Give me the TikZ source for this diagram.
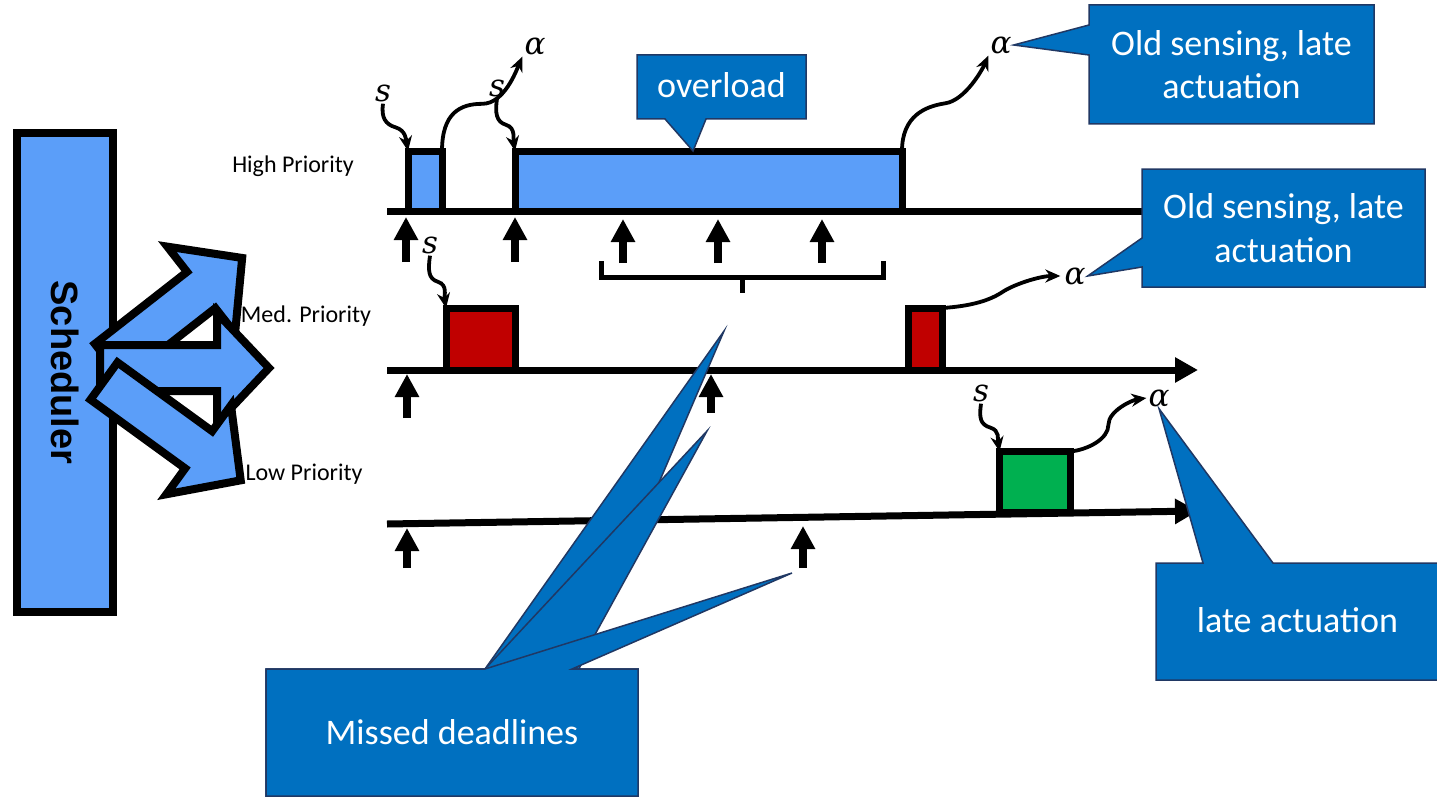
\documentclass[tikz,border=0pt]{standalone}
\usepackage{fontspec}
\setmainfont{Carlito}
\newfontfamily\arialfont{Liberation Sans}
\newfontfamily\sigfont{DejaVu Serif}
\usetikzlibrary{calc,arrows.meta}
\definecolor{taskblue}{RGB}{91,158,249}
\definecolor{taskred}{RGB}{192,0,0}
\definecolor{taskgreen}{RGB}{0,176,80}
\definecolor{callblue}{RGB}{0,112,192}
\definecolor{callrim}{RGB}{32,56,100}
\tikzset{
  task/.style={draw=black,line width=7pt,inner sep=0pt,outer sep=0pt,anchor=south west},
  timeline/.style={line width=7pt,-{Triangle[length=23pt,width=24pt]}},
  deadline/.style={line width=8pt,-{Triangle[length=23pt,width=23pt]}},
  squig/.style={line width=3.8pt,-{Stealth[length=15pt,width=13pt]}},
  sig/.style={font=\sigfont\itshape\fontsize{31}{36}\selectfont,inner sep=2pt},
  prio/.style={font=\fontsize{24}{28}\selectfont,anchor=base},
  callout/.style={fill=callblue,draw=callrim,line width=1.5pt},
  calltext/.style={text=white,font=\fontsize{36}{43.5}\selectfont,align=center},
  fat/.style={fill=taskblue,draw=black,line width=8pt},
}
% block arrow: tail centre, angle, shaft length
\newcommand{\fatarrow}[3]{%
  \begin{scope}[shift={#1},rotate=#2]
    \draw[fat] (0,-23) -- (#3,-23) -- (#3,-55) -- ({#3+52},0) -- (#3,55) -- (#3,23) -- (0,23) -- cycle;
  \end{scope}}

\begin{document}
\begin{tikzpicture}[x=1pt,y=-1pt]
    \useasboundingbox (0,0) rectangle (1437,797);

    % scheduler and its three outputs
    \node[fat,rotate=-90,minimum width=479pt,minimum height=96pt,inner sep=0pt,
          font=\arialfont\bfseries\fontsize{38}{40}\selectfont] (sched) at (65,372.5) {Scheduler};
    \fatarrow{(109,362)}{38}{117}
    \fatarrow{(100,368)}{0}{117}
    \fatarrow{(104,381)}{-36}{117}

    \node[prio] (hilab) at (293,172) {High Priority};
    \node[prio] (medlab) at (306,322) {Med. Priority};
    \node[prio] (lowlab) at (304,480) {Low Priority};

    % time lines
    \draw[timeline] (387,211) -- (1195,211);
    \draw[timeline] (387,370) -- (1198,370);
    \draw[timeline] (387,524) -- (1198,511);

    \node[task,fill=taskblue,minimum width=34pt,minimum height=60pt] (h1) at (408,211) {};
    \node[task,fill=taskblue,minimum width=387pt,minimum height=60pt] (h2) at (515,211) {};
    \node[task,fill=taskred,minimum width=69pt,minimum height=62pt] (m1) at (446,370) {};
    \node[task,fill=taskred,minimum width=34.5pt,minimum height=62pt] (m2) at (908,370) {};
    \node[task,fill=taskgreen,minimum width=71pt,minimum height=60.5pt] (l1) at (999.5,512) {};

    % releases
    \foreach \x/\yt/\yb in {406/217/262,515/217/262,623/219/263,718/219/263,822/219/263,
                           407/374/418,711/374/413,407/528/568,803/526/568}
        \draw[deadline] (\x,\yb) -- (\x,\yt);
    \draw[line width=5pt] (601,261) |- (742,277) -| (883,261);
    \draw[line width=5pt] (742,277) -- (742,293);

    % sensing and actuation
    \node[sig] (s1) at (383,93) {s};
    \node[sig] (s2) at (497,88) {s};
    \node[sig] (a1) at (535,46) {α};
    \node[sig] (a2) at (1001,45) {α};
    \node[sig] (s3) at (430,245) {s};
    \node[sig] (a3) at (1075,276) {α};
    \node[sig] (s4) at (981,393) {s};
    \node[sig] (a4) at (1159,398) {α};

    \draw[squig] (s1.south) .. controls +(-2,14) and +(-10,-3) .. ($(s1.south)!.5!(h1.north west)$)
        .. controls +(10,3) and +(-2,-12) .. (h1.north west);
    \draw[squig] (s2.south) .. controls +(-2,14) and +(-10,-3) .. ($(s2.south)!.5!(h2.north west)$)
        .. controls +(10,3) and +(-2,-12) .. (h2.north west);
    \draw[squig] (s3.south) .. controls +(-2,14) and +(-10,-3) .. ($(s3.south)!.5!(m1.north west)$)
        .. controls +(10,3) and +(-2,-12) .. (m1.north west);
    \draw[squig] (s4.south) .. controls +(-2,14) and +(-10,-3) .. ($(s4.south)!.5!(l1.north west)$)
        .. controls +(10,3) and +(-2,-12) .. (l1.north west);
    \draw[squig] (h1.north east) .. controls +(0,-38) and +(-22,0) .. ($(h1.north east)!.5!(a1.south west)$)
        .. controls +(22,0) and +(-6,14) .. (a1.south west);
    \draw[squig] (h2.north east) .. controls +(0,-35) and +(-20,3) .. ($(h2.north east)!.5!(a2.south west)$)
        .. controls +(20,-3) and +(-6,14) .. (a2.south west);
    \draw[squig,shorten >=2pt] (m2.north east) .. controls +(30,-2) and +(-12,8) .. ($(m2.north east)!.5!(a3.west)$)
        .. controls +(12,-8) and +(-22,0) .. (a3.west);
    \draw[squig] (l1.north east) .. controls +(18,-2) and +(0,14) .. ($(l1.north east)!.5!(a4.west)$)
        .. controls +(0,-14) and +(-14,2) .. (a4.west);

    % callouts
    \coordinate (ovtip) at ($(h2.north west)!.46!(h2.north east)$);
    \filldraw[callout] (637,55) -- (806,55) -- (806,119) -- (706,119) -- (ovtip) -- (665,119) -- (637,119) -- cycle;
    \node[calltext] (over) at (721.5,85) {overload};

    \filldraw[callout] (1089,5) -- (1374,5) -- (1374,124) -- (1089,124) -- (1089,55) -- (a2.east) -- (1089,25) -- cycle;
    \node[calltext] (oldA) at (1231.5,64.5) {Old sensing, late\\actuation};

    \filldraw[callout] (1142,169) -- (1425,169) -- (1425,287) -- (1142,287) -- (1142,267) -- (a3.east) -- (1142,238) -- cycle;
    \node[calltext] (oldB) at (1283.5,228) {Old sensing, late\\actuation};

    \filldraw[callout] (1156,563) -- (1203,563) -- (a4.south) -- (1273,563) -- (1440,563) -- (1440,680) -- (1156,680) -- cycle;
    \node[calltext] (late) at (1297.5,620) {late actuation};

    \coordinate (miss1) at (724,331);
    \coordinate (miss2) at (707,431);
    \coordinate (miss3) at (792,573);
    \foreach \t/\r in {miss1/579,miss2/576,miss3/572}
        \filldraw[callout] (266,669) -- (485,669) -- (\t) -- (\r,669) -- (638,669) -- (638,796) -- (266,796) -- cycle;
    \node[calltext] (missed) at (452,732) {Missed deadlines};
\end{tikzpicture}
\end{document}
